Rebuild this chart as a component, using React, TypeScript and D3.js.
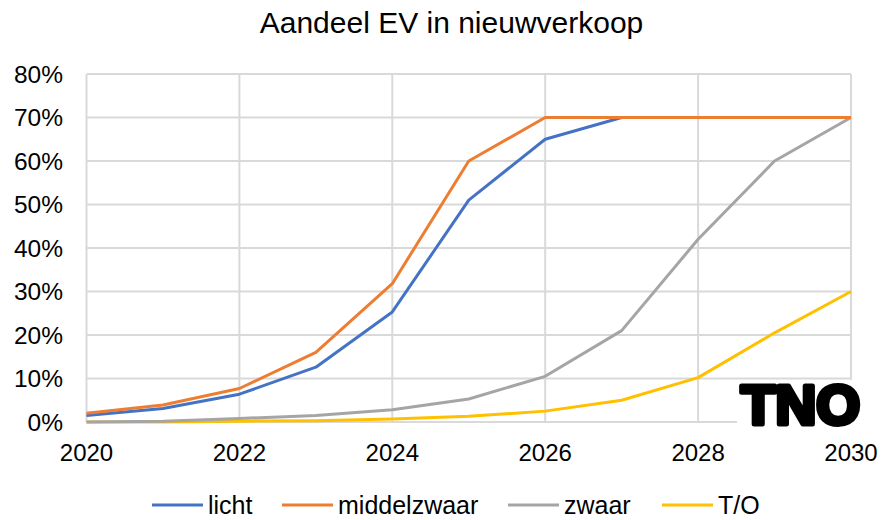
import { useRef, useEffect } from 'react';
import * as d3 from 'd3';

const years = [2020, 2021, 2022, 2023, 2024, 2025, 2026, 2027, 2028, 2029, 2030];
const licht = [1.5, 3.1, 6.4, 12.6, 25.3, 51, 65, 70, 70, 70, 70];
const middelzwaar = [2, 3.9, 7.7, 16, 31.8, 60, 70, 70, 70, 70, 70];
const zwaar = [0, 0.2, 0.8, 1.5, 2.8, 5.3, 10.5, 21, 42, 60, 70];
const trekkerOplegger = [0, 0, 0.2, 0.3, 0.7, 1.3, 2.5, 5, 10.2, 20.5, 30];

const seriesNames = ['licht', 'middelzwaar', 'zwaar', 'T/O'];
const seriesColors = ['#4472C4', '#ED7D31', '#A5A5A5', '#FFC000'];
const xTicks = [2020, 2022, 2024, 2026, 2028, 2030];
const yTicks = [0, 10, 20, 30, 40, 50, 60, 70, 80];

const width = 889;
const height = 520;
const font = "'Liberation Sans', Arial, sans-serif";

export default function App() {
  const svgRef = useRef<SVGSVGElement>(null);

  useEffect(() => {
    const svg = d3.select(svgRef.current);
    svg.selectAll('*').remove();

    const x = d3.scaleLinear().domain([2020, 2030]).range([86.5, 851]);
    const y = d3.scaleLinear().domain([0, 80]).range([422, 74]);

    // Title
    svg
      .append('text')
      .attr('x', 451.5)
      .attr('y', 33)
      .attr('text-anchor', 'middle')
      .attr('font-family', font)
      .attr('font-size', '30px')
      .attr('fill', '#000')
      .text('Aandeel EV in nieuwverkoop');

    // Gridlines
    const grid = svg.append('g');
    for (const t of yTicks) {
      grid
        .append('line')
        .attr('x1', x(2020))
        .attr('x2', x(2030))
        .attr('y1', y(t))
        .attr('y2', y(t))
        .attr('stroke', '#D9D9D9')
        .attr('stroke-width', 2);
    }
    for (const t of xTicks) {
      grid
        .append('line')
        .attr('x1', x(t))
        .attr('x2', x(t))
        .attr('y1', y(0))
        .attr('y2', y(80))
        .attr('stroke', '#D9D9D9')
        .attr('stroke-width', 2);
    }

    // Axis labels
    for (const t of yTicks) {
      svg
        .append('text')
        .attr('x', 63)
        .attr('y', y(t))
        .attr('dy', '0.36em')
        .attr('text-anchor', 'end')
        .attr('font-family', font)
        .attr('font-size', '24.5px')
        .attr('fill', '#000')
        .text(`${t}%`);
    }
    for (const t of xTicks) {
      svg
        .append('text')
        .attr('x', x(t))
        .attr('y', 461)
        .attr('text-anchor', 'middle')
        .attr('font-family', font)
        .attr('font-size', '24px')
        .attr('fill', '#000')
        .text(String(t));
    }

    // TNO logo on a white patch
    svg
      .append('rect')
      .attr('x', 737)
      .attr('y', 380)
      .attr('width', 130)
      .attr('height', 50)
      .attr('fill', '#fff');
    svg
      .append('text')
      .attr('x', 741)
      .attr('y', 424)
      .attr('font-family', font)
      .attr('font-weight', 'bold')
      .attr('font-size', '56px')
      .attr('textLength', 119)
      .attr('lengthAdjust', 'spacingAndGlyphs')
      .attr('fill', '#000')
      .attr('stroke', '#000')
      .attr('stroke-width', 5)
      .attr('stroke-linejoin', 'round')
      .text('TNO');

    // Lines
    const allSeries = [licht, middelzwaar, zwaar, trekkerOplegger];
    const line = d3
      .line<number>()
      .x((_, i) => x(years[i]))
      .y((d) => y(d));

    const drawOrder = [3, 2, 0, 1];
    for (const idx of drawOrder) {
      svg
        .append('path')
        .datum(allSeries[idx])
        .attr('d', line)
        .attr('fill', 'none')
        .attr('stroke', seriesColors[idx])
        .attr('stroke-width', 3)
        .attr('stroke-linejoin', 'round');
    }

    // Legend
    const legendX = [152, 282, 508, 662];
    seriesNames.forEach((name, i) => {
      const lx = legendX[i];
      svg
        .append('line')
        .attr('x1', lx)
        .attr('x2', lx + 51)
        .attr('y1', 505)
        .attr('y2', 505)
        .attr('stroke', seriesColors[i])
        .attr('stroke-width', 3);
      svg
        .append('text')
        .attr('x', lx + 56)
        .attr('y', 505)
        .attr('dy', '0.36em')
        .attr('font-family', font)
        .attr('font-size', '25px')
        .attr('fill', '#000')
        .text(name);
    });
  }, []);

  return (
    <svg
      ref={svgRef}
      width={width}
      height={height}
      viewBox={`0 0 ${width} ${height}`}
      style={{ position: 'absolute', left: 0, top: 0, background: '#fff' }}
    />
  );
}
